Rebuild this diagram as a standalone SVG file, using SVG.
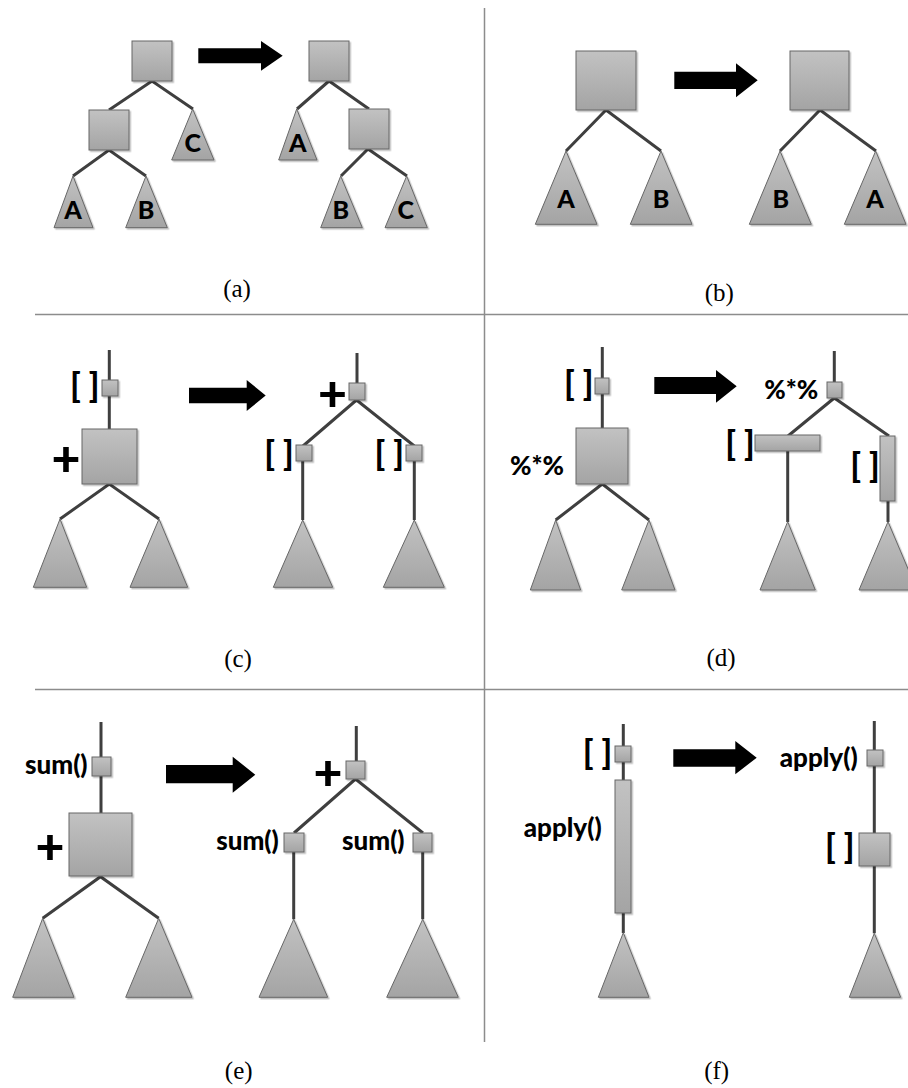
<svg xmlns="http://www.w3.org/2000/svg" width="908" height="1088" viewBox="0 0 908 1088">
<style>
.edge{stroke:#3f3f3f;stroke-width:3;fill:none}
.sh{fill:url(#g);stroke:#666;stroke-width:1;filter:url(#ds)}
.arr{fill:#000}
.div{stroke:#8c8c8c;stroke-width:1.5}
.lb{font-family:Lato,"Open Sans",sans-serif;font-weight:900;fill:#000;text-anchor:middle}
.l{font-size:25px}
.br{font-size:34px}
.pl{font-size:50px}
.fn{font-size:26px}
.cap{font-family:"Liberation Serif","Times New Roman",serif;font-size:25px;fill:#000;text-anchor:middle}
</style>
<defs>
<linearGradient id="g" x1="0" y1="0" x2="0" y2="1">
<stop offset="0" stop-color="#c2c2c2"/>
<stop offset="1" stop-color="#a4a4a4"/>
</linearGradient>
<filter id="ds" x="-20%" y="-20%" width="150%" height="150%">
<feDropShadow dx="1.5" dy="1.5" stdDeviation="0.7" flood-color="#000" flood-opacity="0.25"/>
</filter>
</defs>
<rect width="908" height="1088" fill="#fff"/>
<g id="dividers">
<line class="div" x1="35" y1="314.5" x2="908" y2="314.5"/>
<line class="div" x1="35" y1="689.5" x2="908" y2="689.5"/>
<line class="div" x1="484.5" y1="8" x2="484.5" y2="1042"/>
</g>
<g id="connectors">
<polyline class="edge" points="109,110 152,81 193,109"/>
<polyline class="edge" points="73,176 109,150 146,176"/>
<polyline class="edge" points="297,109 329,81 369,109"/>
<polyline class="edge" points="341,176 368,149 407,176"/>
<polyline class="edge" points="566,151 606,110 661,151"/>
<polyline class="edge" points="780,151 820,110 876,151"/>
<line class="edge" x1="109.3" y1="350" x2="109.3" y2="429"/>
<polyline class="edge" points="60,519 109.3,484 159,519"/>
<line class="edge" x1="357" y1="353" x2="357" y2="383"/>
<polyline class="edge" points="303,446 356.5,400 414.3,446"/>
<line class="edge" x1="302.7" y1="461" x2="302.7" y2="520"/>
<line class="edge" x1="414.3" y1="461" x2="414.3" y2="520"/>
<line class="edge" x1="602.3" y1="347" x2="602.3" y2="428"/>
<polyline class="edge" points="555.7,520 602.3,484 649,520"/>
<line class="edge" x1="834.3" y1="351" x2="834.3" y2="382"/>
<polyline class="edge" points="788,436 834.3,398 889,436"/>
<line class="edge" x1="787.7" y1="451" x2="787.7" y2="522"/>
<line class="edge" x1="888" y1="500" x2="888" y2="522"/>
<line class="edge" x1="101" y1="722" x2="101" y2="813"/>
<polyline class="edge" points="42.7,918.3 100.5,876.7 158.7,918.3"/>
<line class="edge" x1="356.3" y1="726" x2="356.3" y2="761"/>
<polyline class="edge" points="294,833 355.5,779 423,833"/>
<line class="edge" x1="293.7" y1="851" x2="293.7" y2="919.3"/>
<line class="edge" x1="422.7" y1="851" x2="422.7" y2="919.3"/>
<line class="edge" x1="623.3" y1="724" x2="623.3" y2="781"/>
<line class="edge" x1="623.3" y1="912" x2="623.3" y2="933"/>
<line class="edge" x1="874.3" y1="721" x2="874.3" y2="933.3"/>
</g>
<g id="arrows">
<polygon class="arr" points="198.3,48.3 261,48.3 261,41 282.7,55.8 261,70.7 261,63.3 198.3,63.3"/>
<polygon class="arr" points="674.3,71.7 736,71.7 736,63.3 757.7,80.3 736,97.3 736,89 674.3,89"/>
<polygon class="arr" points="189,387.7 246.7,387.7 246.7,380 265.7,395.5 246.7,411 246.7,403.3 189,403.3"/>
<polygon class="arr" points="654.3,377 716,377 716,370 736.7,386.3 716,402.7 716,394 654.3,394"/>
<polygon class="arr" points="166,765 232.7,765 232.7,756.7 255.3,774.7 232.7,792.7 232.7,783.3 166,783.3"/>
<polygon class="arr" points="673.3,749.3 735.3,749.3 735.3,741 756.7,757.7 735.3,774.3 735.3,766.7 673.3,766.7"/>
</g>
<g id="a-root"><rect class="sh" x="132" y="41" width="40" height="40"/></g>
<g id="a-mid"><rect class="sh" x="89" y="110" width="40" height="40"/></g>
<g id="a-A"><polygon class="sh" points="73,176 93,227.7 54,227.7"/><text class="lb l" x="73" y="218.5">A</text></g>
<g id="a-B"><polygon class="sh" points="146,176 167.3,227.7 125.7,227.7"/><text class="lb l" x="146" y="218.5">B</text></g>
<g id="a-C"><polygon class="sh" points="192.7,109 214,160 171.7,160"/><text class="lb l" x="192.7" y="152">C</text></g>
<g id="a2-root"><rect class="sh" x="309" y="41" width="40" height="40"/></g>
<g id="a2-mid"><rect class="sh" x="349" y="109" width="40" height="40"/></g>
<g id="a2-A"><polygon class="sh" points="296.7,109 317,160 278.7,160"/><text class="lb l" x="297.7" y="152">A</text></g>
<g id="a2-B"><polygon class="sh" points="340.7,176 362.3,227.7 320.7,227.7"/><text class="lb l" x="340.7" y="218.5">B</text></g>
<g id="a2-C"><polygon class="sh" points="406.7,176 427.3,227.7 385,227.7"/><text class="lb l" x="405.7" y="218.5">C</text></g>
<text class="cap" x="237" y="297">(a)</text>
<g id="b-root"><rect class="sh" x="576" y="51" width="60" height="59"/></g>
<g id="b-A"><polygon class="sh" points="566,151 597,224.3 535.3,224.3"/><text class="lb l" x="566" y="208">A</text></g>
<g id="b-B"><polygon class="sh" points="661,151 692,224.3 630.3,224.3"/><text class="lb l" x="661" y="208">B</text></g>
<g id="b2-root"><rect class="sh" x="790" y="51" width="59" height="59"/></g>
<g id="b2-B"><polygon class="sh" points="780,151 811.3,224.3 749.3,224.3"/><text class="lb l" x="780.7" y="208">B</text></g>
<g id="b2-A"><polygon class="sh" points="875.7,151 906,224.3 844.3,224.3"/><text class="lb l" x="875" y="208">A</text></g>
<text class="cap" x="719.3" y="300.5">(b)</text>
<g id="c-idx"><rect class="sh" x="102" y="380" width="16" height="16"/><text class="lb br" x="84.7" y="396.5">[ ]</text></g>
<g id="c-plus"><rect class="sh" x="82" y="429" width="55" height="55"/><text class="lb pl" x="66" y="476">+</text></g>
<g id="c-t1"><polygon class="sh" points="60,519 86.7,587.3 33.3,587.3"/></g>
<g id="c-t2"><polygon class="sh" points="159,519 187.7,587.3 130,587.3"/></g>
<g id="c2-plus"><rect class="sh" x="349" y="383" width="16" height="17"/><text class="lb pl" x="332.5" y="411">+</text></g>
<g id="c2-idx1"><rect class="sh" x="296" y="445" width="16" height="16"/><text class="lb br" x="279" y="464.5">[ ]</text></g>
<g id="c2-idx2"><rect class="sh" x="406" y="445" width="16" height="16"/><text class="lb br" x="389.3" y="464.5">[ ]</text></g>
<g id="c2-t1"><polygon class="sh" points="302.7,520 332.7,587.3 273.3,587.3"/></g>
<g id="c2-t2"><polygon class="sh" points="414.3,520 444.3,587.3 383.3,587.3"/></g>
<text class="cap" x="238" y="667">(c)</text>
<g id="d-idx"><rect class="sh" x="595" y="378" width="14" height="16"/><text class="lb br" x="578.8" y="395">[ ]</text></g>
<g id="d-mm"><rect class="sh" x="576" y="428" width="52" height="56"/><text class="lb fn" x="537" y="475">%*%</text></g>
<g id="d-t1"><polygon class="sh" points="555.7,520 580.7,590 530.3,590"/></g>
<g id="d-t2"><polygon class="sh" points="649,520 675,590 621.7,590"/></g>
<g id="d2-mm"><rect class="sh" x="827" y="382" width="15" height="16"/><text class="lb fn" x="791.3" y="399">%*%</text></g>
<g id="d2-idx1"><rect class="sh" x="755" y="435" width="65" height="16"/><text class="lb br" x="740" y="455">[ ]</text></g>
<g id="d2-idx2"><rect class="sh" x="880" y="436" width="15" height="65"/><text class="lb br" x="865" y="476.5">[ ]</text></g>
<g id="d2-t1"><polygon class="sh" points="787.7,521.7 815.3,590 760,590"/></g>
<g id="d2-t2"><polygon class="sh" points="888,521.7 917,590 859,590"/></g>
<text class="cap" x="721" y="666">(d)</text>
<g id="e-sum"><rect class="sh" x="92" y="757" width="19" height="19"/><text class="lb fn" x="56.3" y="773.5">sum()</text></g>
<g id="e-plus"><rect class="sh" x="69" y="813" width="63" height="63"/><text class="lb pl" x="50" y="864">+</text></g>
<g id="e-t1"><polygon class="sh" points="42.7,918.3 74,997.3 12.7,997.3"/></g>
<g id="e-t2"><polygon class="sh" points="158.7,918.3 192,997.3 125.7,997.3"/></g>
<g id="e2-plus"><rect class="sh" x="346" y="761" width="19" height="18"/><text class="lb pl" x="328" y="790">+</text></g>
<g id="e2-sum1"><rect class="sh" x="284" y="833" width="20" height="19"/><text class="lb fn" x="247.5" y="849.8">sum()</text></g>
<g id="e2-sum2"><rect class="sh" x="413" y="833" width="19" height="19"/><text class="lb fn" x="373.3" y="849.8">sum()</text></g>
<g id="e2-t1"><polygon class="sh" points="293.7,919.3 327.7,997.3 259,997.3"/></g>
<g id="e2-t2"><polygon class="sh" points="422.7,919.3 458.3,997.3 386.7,997.3"/></g>
<text class="cap" x="238.7" y="1079">(e)</text>
<g id="f-idx"><rect class="sh" x="615" y="746" width="16" height="16"/><text class="lb br" x="597.5" y="763.5">[ ]</text></g>
<g id="f-apply"><rect class="sh" x="615" y="780" width="16" height="133"/><text class="lb fn" x="562.7" y="836.7">apply()</text></g>
<g id="f-t"><polygon class="sh" points="623.3,932.7 649,997.3 598.3,997.3"/></g>
<g id="f2-apply"><rect class="sh" x="867" y="750" width="16" height="16"/><text class="lb fn" x="818.7" y="767">apply()</text></g>
<g id="f2-idx"><rect class="sh" x="859" y="833" width="31" height="33"/><text class="lb br" x="839.7" y="857.5">[ ]</text></g>
<g id="f2-t"><polygon class="sh" points="874.3,933.3 900.7,997.3 849.3,997.3"/></g>
<text class="cap" x="716.7" y="1079">(f)</text>
</svg>
